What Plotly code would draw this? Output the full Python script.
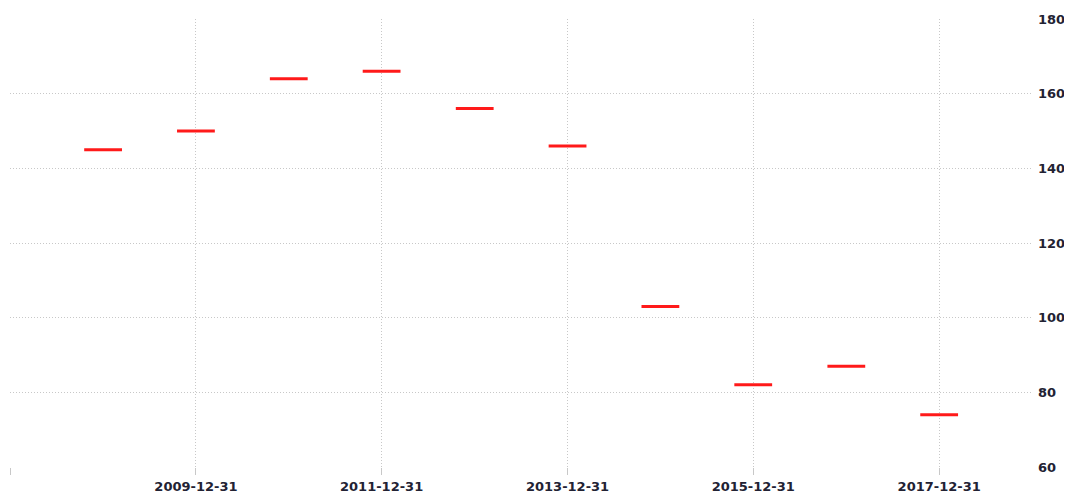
import plotly.graph_objects as go

dates = ["2008-12-31", "2009-12-31", "2010-12-31", "2011-12-31", "2012-12-31",
         "2013-12-31", "2014-12-31", "2015-12-31", "2016-12-31", "2017-12-31"]
values = [145, 150, 164, 166, 156, 146, 103, 82, 87, 74]

x_tickvals = ["2007-12-31", "2009-12-31", "2011-12-31", "2013-12-31", "2015-12-31", "2017-12-31"]
x_ticktext = ["", "2009-12-31", "2011-12-31", "2013-12-31", "2015-12-31", "2017-12-31"]
y_tickvals = [60, 80, 100, 120, 140, 160, 180]

fig = go.Figure()
fig.add_trace(go.Scatter(
    x=dates, y=values, mode="markers",
    marker=dict(symbol="line-ew", size=27, line=dict(color="#ff1a1a", width=3)),
    showlegend=False, hoverinfo="x+y",
))

# page body has an 8px default margin, so the figure is sized/offset accordingly
fig.update_layout(
    width=1064, height=485,
    margin=dict(l=2, r=40, t=11, b=26),
    paper_bgcolor="white", plot_bgcolor="white",
    font=dict(family="DejaVu Sans, sans-serif", size=13, color="#222233", weight="bold"),
    xaxis=dict(
        type="date", range=["2007-12-31", "2018-12-31"],
        tickvals=x_tickvals, ticktext=x_ticktext, automargin=False,
        showgrid=True, gridcolor="#c8c8c8", griddash="1px,2px", gridwidth=1,
        ticks="outside", ticklen=7, tickcolor="#c8c8c8", tickwidth=1,
        showline=False, zeroline=False, ticklabelstandoff=0,
    ),
    yaxis=dict(
        range=[60, 180], side="right", tickvals=y_tickvals, automargin=False,
        showgrid=True, gridcolor="#c8c8c8", griddash="1px,2px", gridwidth=1,
        ticks="", showline=False, zeroline=False, ticklabelstandoff=5,
    ),
)

fig.write_html("out.html")
